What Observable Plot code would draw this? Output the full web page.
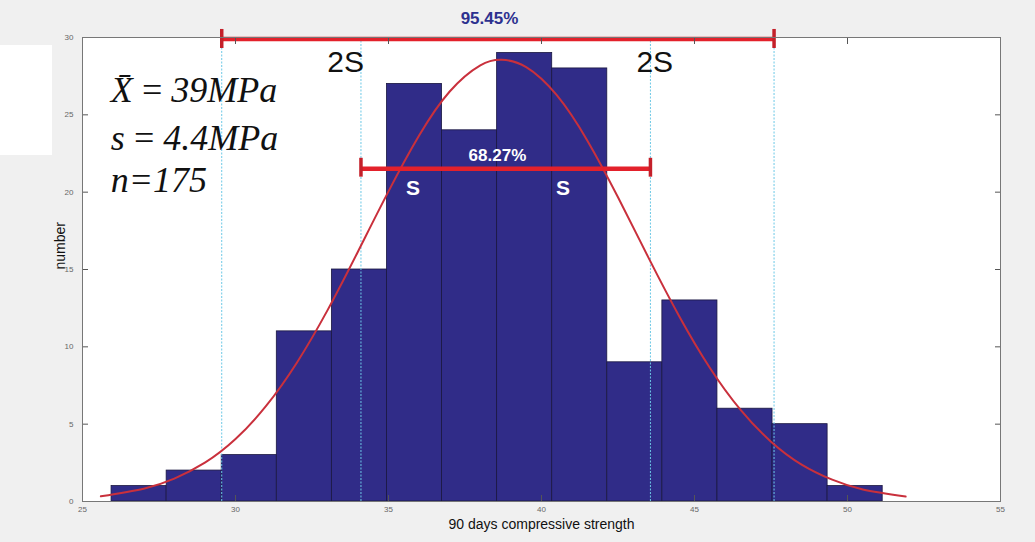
<!DOCTYPE html>
<html>
<head>
<meta charset="utf-8">
<script src="https://cdn.jsdelivr.net/npm/d3@7"></script>
<script src="https://cdn.jsdelivr.net/npm/@observablehq/plot@0.6"></script>
<style>
  html, body { margin: 0; padding: 0; background: #f0f0f0; }
  #wrap { position: relative; width: 1035px; height: 542px; }
  #patch { position: absolute; left: 0; top: 45px; width: 52px; height: 110px; background: #ffffff; }
  #chart { position: absolute; left: 0; top: 0; }
</style>
</head>
<body>
<div id="wrap"><div id="patch"></div><div id="chart"></div></div>
<script>
// Histogram bins (edges) and counts
const binEdges = [25.95, 27.75, 29.55, 31.35, 33.15, 34.95, 36.75, 38.55, 40.35, 42.15, 43.95, 45.75, 47.55, 49.35, 51.15];
const binCounts = [1, 2, 3, 11, 15, 27, 24, 29, 28, 9, 13, 6, 5, 1];

// Fitted normal curve
const curveX = [25.6, 27, 28, 29, 30, 31, 32, 33, 34, 35, 36, 37, 38, 38.7, 39.5, 40.5, 41.5, 42.5, 43.5, 44.5, 45.5, 46.5, 47.5, 48.5, 49.5, 50.5, 51.9];
const curveY = [0.34, 0.83, 1.48, 2.51, 4.04, 6.18, 8.96, 12.34, 16.15, 20.05, 23.66, 26.51, 28.2, 28.56, 28.09, 26.27, 23.33, 19.67, 15.75, 11.98, 8.65, 5.94, 3.87, 2.39, 1.41, 0.78, 0.32];

// Sigma guide lines (mean ± s, mean ± 2s)
const sigmaLines = [29.55, 34.1, 43.56, 47.6];
const twoSRange = [29.55, 47.6];
const twoSLevel = 29.9;
const twoSCap = [29.29, 30.52];
const oneSRange = [34.1, 43.56];
const oneSLevel = 21.52;
const oneSCap = [20.97, 22.19];

// Tick values
const xTicks = [25, 30, 35, 40, 45, 50, 55];
const yTicks = [0, 5, 10, 15, 20, 25, 30];

// Annotation texts
const statLines = ["X\u0304\u2009=\u200939MPa", "s\u2009=\u20094.4MPa", "n=175"];
const statY = [26.55, 23.45, 20.74];
const statX = 25.92;
const pct95 = {label: "95.45%", x: 38.3, y: 31.23};
const pct68 = {label: "68.27%", x: 38.56, y: 22.39};
const twoSLabels = [{label: "2S", x: 33.6}, {label: "2S", x: 43.7}];
const twoSLabelY = 28.39;
const sLabels = [{label: "S", x: 35.8}, {label: "S", x: 40.7}];
const sLabelY = 20.26;

const bins = binCounts.map((c, i) => ({x1: binEdges[i], x2: binEdges[i + 1], count: c}));
const curve = curveX.map((x, i) => ({x, y: curveY[i]}));

const red = "#e3212b";
const chart = Plot.plot({
  width: 1035,
  height: 542,
  marginLeft: 82,
  marginRight: 35,
  marginTop: 37,
  marginBottom: 41,
  x: {domain: [25, 55]},
  y: {domain: [0, 30]},
  style: {background: "transparent", fontFamily: "'Liberation Sans', Arial, sans-serif"},
  marks: [
    Plot.frame({fill: "white", stroke: null}),
    Plot.rectY(bins, {x1: "x1", x2: "x2", y: "count", fill: "#302c88", stroke: "#1a1740", strokeWidth: 0.8}),
    Plot.ruleX(sigmaLines, {y1: 0, y2: 30, stroke: "#6cc8e6", strokeWidth: 1, strokeDasharray: "2,1.5"}),
    Plot.line(curve, {x: "x", y: "y", curve: "natural", stroke: "#c9303c", strokeWidth: 2}),
    // 2S bar
    Plot.ruleY([twoSLevel], {x1: twoSRange[0], x2: twoSRange[1], stroke: red, strokeWidth: 4.5}),
    Plot.ruleX(twoSRange, {y1: twoSCap[0], y2: twoSCap[1], stroke: "#c4202a", strokeWidth: 3.5}),
    // 1S bar
    Plot.ruleY([oneSLevel], {x1: oneSRange[0], x2: oneSRange[1], stroke: red, strokeWidth: 4.5}),
    Plot.ruleX(oneSRange, {y1: oneSCap[0], y2: oneSCap[1], stroke: "#c4202a", strokeWidth: 3.5}),
    // texts
    Plot.text([pct95], {x: "x", y: "y", text: "label", fill: "#2d318f", fontWeight: "bold", fontSize: 17}),
    Plot.text([pct68], {x: "x", y: "y", text: "label", fill: "white", fontWeight: "bold", fontSize: 17}),
    Plot.text(twoSLabels, {x: "x", y: twoSLabelY, text: "label", fill: "#111", fontSize: 30}),
    Plot.text(sLabels, {x: "x", y: sLabelY, text: "label", fill: "white", fontWeight: "bold", fontSize: 21}),
    Plot.text(statLines, {x: statX, y: (d, i) => statY[i], text: d => d, textAnchor: "start",
      fontFamily: "'Liberation Serif', 'DejaVu Serif', serif", fontStyle: "italic", fontSize: 36, fill: "#111"}),
    // axes
    Plot.axisX(xTicks, {tickSize: -6, tickPadding: 11, fontSize: 8, fill: "#666", stroke: "#555", label: null}),
    Plot.axisX(xTicks, {anchor: "top", tickSize: -6, tickFormat: () => "", stroke: "#555", label: null}),
    Plot.axisY(yTicks, {tickSize: -6, tickPadding: 15, fontSize: 8, fill: "#666", stroke: "#555", label: null}),
    Plot.axisY(yTicks, {anchor: "right", tickSize: -6, tickFormat: () => "", stroke: "#555", label: null}),
    Plot.frame({stroke: "#777", strokeWidth: 1}),
    Plot.text(["number"], {frameAnchor: "left", dx: -22, rotate: -90, fontSize: 14, fill: "#111"}),
    Plot.text(["90 days compressive strength"], {frameAnchor: "bottom", dy: 27, fontSize: 14, fill: "#111"})
  ]
});
document.getElementById("chart").append(chart);
</script>
</body>
</html>
